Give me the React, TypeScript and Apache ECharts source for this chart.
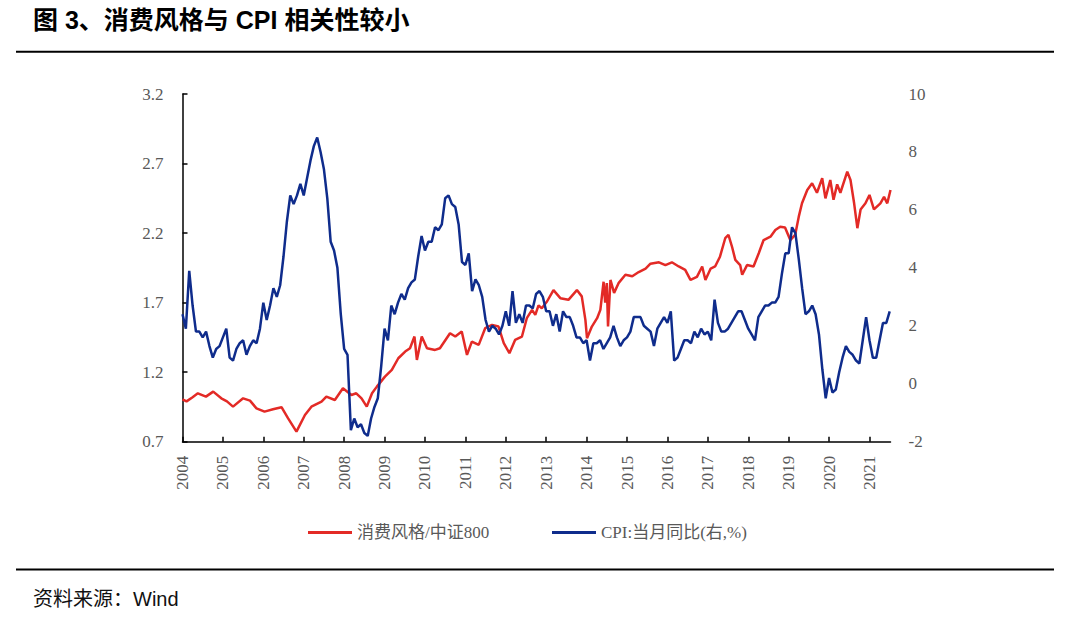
import React, { useEffect, useRef } from "react";
import * as echarts from "echarts";

// ---- Data ----
const yearTicks = [2004, 2005, 2006, 2007, 2008, 2009, 2010, 2011, 2012, 2013, 2014, 2015, 2016, 2017, 2018, 2019, 2020, 2021];

// 消费风格/中证800 (left axis): x as decimal year
const styleX = [
  2004.0, 2004.1, 2004.25, 2004.38, 2004.58, 2004.76, 2004.96, 2005.1, 2005.25, 2005.5, 2005.67, 2005.83,
  2006.03, 2006.24, 2006.45, 2006.61, 2006.82, 2007.03, 2007.19, 2007.44, 2007.56, 2007.77, 2007.97,
  2008.18, 2008.3, 2008.43, 2008.56, 2008.69, 2008.81, 2009.01, 2009.18, 2009.34, 2009.51, 2009.63,
  2009.74, 2009.8, 2009.92, 2010.05, 2010.25, 2010.37, 2010.62, 2010.75, 2010.91, 2011.04, 2011.16,
  2011.33, 2011.49, 2011.66, 2011.82, 2011.95, 2012.09, 2012.23, 2012.4, 2012.52, 2012.65, 2012.73,
  2012.81, 2012.89, 2013.02, 2013.18, 2013.35, 2013.55, 2013.76, 2013.88, 2013.97, 2014.01, 2014.13,
  2014.26, 2014.34, 2014.42, 2014.46, 2014.5, 2014.53, 2014.59, 2014.68, 2014.79, 2014.96, 2015.13,
  2015.29, 2015.46, 2015.58, 2015.79, 2015.95, 2016.11, 2016.28, 2016.44, 2016.57, 2016.73, 2016.86,
  2016.94, 2017.07, 2017.18, 2017.3, 2017.43, 2017.51, 2017.6, 2017.68, 2017.8, 2017.85, 2017.97,
  2018.13, 2018.26, 2018.38, 2018.55, 2018.67, 2018.79, 2018.91, 2019.04, 2019.16, 2019.25, 2019.33,
  2019.46, 2019.58, 2019.7, 2019.83, 2019.91, 2020.03, 2020.11, 2020.2, 2020.28, 2020.45, 2020.53,
  2020.62, 2020.7, 2020.78, 2020.9, 2021.0, 2021.11, 2021.27, 2021.36, 2021.44, 2021.52,
];
const styleY = [
  1.005, 0.99, 1.02, 1.048, 1.024, 1.06, 1.012, 0.99, 0.952, 1.012, 0.995, 0.94,
  0.916, 0.933, 0.948, 0.869, 0.772, 0.892, 0.952, 0.988, 1.024, 1.0, 1.084,
  1.036, 1.048, 1.012, 0.952, 1.048, 1.096, 1.168, 1.216, 1.3, 1.348, 1.372,
  1.456, 1.288, 1.456, 1.372, 1.36, 1.372, 1.48, 1.456, 1.492, 1.324, 1.42,
  1.396, 1.516, 1.54, 1.528, 1.408, 1.336, 1.432, 1.456, 1.588, 1.648, 1.612,
  1.68, 1.66, 1.708, 1.79, 1.732, 1.72, 1.79, 1.745, 1.576, 1.444, 1.528,
  1.588, 1.648, 1.85, 1.7, 1.84, 1.528, 1.863, 1.77, 1.84, 1.9, 1.89,
  1.92, 1.945, 1.98, 1.99, 1.97, 1.99, 1.96, 1.935, 1.863, 1.885, 1.96,
  1.863, 1.945, 1.96, 2.03, 2.163, 2.187, 2.1, 2.007, 1.97, 1.9, 1.97,
  1.96, 2.055, 2.15, 2.174, 2.222, 2.246, 2.24, 2.15, 2.187, 2.318, 2.414,
  2.51, 2.558, 2.49, 2.594, 2.45, 2.582, 2.44, 2.55, 2.49, 2.642, 2.582,
  2.414, 2.235, 2.37, 2.414, 2.474, 2.37, 2.414, 2.46, 2.414, 2.51,
];

// CPI:当月同比 (right axis), monthly, first point at 2004.0 on the chart's axis
const cpiStart = 2004;
const cpiValues = [
  2.4,
  1.9, 3.9, 2.7, 1.8, 1.8, 1.6, 1.8, 1.3, 0.9, 1.2, 1.3, 1.6,
  1.9, 0.9, 0.8, 1.2, 1.4, 1.5, 1.0, 1.3, 1.5, 1.4, 1.9, 2.8,
  2.2, 2.7, 3.3, 3.0, 3.4, 4.4, 5.6, 6.5, 6.2, 6.5, 6.9, 6.5,
  7.1, 7.7, 8.2, 8.5, 8.0, 7.4, 6.4, 4.9, 4.6, 4.0, 2.4, 1.2,
  1.0, -1.6, -1.2, -1.5, -1.4, -1.7, -1.8, -1.2, -0.8, -0.5, 0.6, 1.9,
  1.5, 2.7, 2.4, 2.8, 3.1, 2.9, 3.3, 3.5, 3.6, 4.4, 5.1, 4.6,
  4.9, 4.9, 5.4, 5.3, 5.5, 6.4, 6.5, 6.2, 6.1, 5.5, 4.2, 4.1,
  4.5, 3.2, 3.6, 3.4, 3.0, 2.2, 1.8, 2.0, 1.9, 1.7, 2.0, 2.5,
  2.0, 3.2, 2.1, 2.4, 2.1, 2.7, 2.7, 2.6, 3.1, 3.2, 3.0, 2.5,
  2.5, 2.0, 2.4, 1.8, 2.5, 2.3, 2.3, 2.0, 1.6, 1.6, 1.4, 1.5,
  0.8, 1.4, 1.4, 1.5, 1.2, 1.4, 1.6, 2.0, 1.6, 1.3, 1.5, 1.6,
  1.8, 2.3, 2.3, 2.3, 2.0, 1.9, 1.8, 1.3, 1.9, 2.1, 2.3, 2.1,
  2.5, 0.8, 0.9, 1.2, 1.5, 1.5, 1.4, 1.8, 1.6, 1.9, 1.7, 1.8,
  1.5, 2.9, 2.1, 1.8, 1.8, 1.9, 2.1, 2.3, 2.5, 2.5, 2.2, 1.9,
  1.7, 1.5, 2.3, 2.5, 2.7, 2.7, 2.8, 2.8, 3.0, 3.8, 4.5, 4.5,
  5.4, 5.2, 4.3, 3.3, 2.4, 2.5, 2.7, 2.4, 1.7, 0.5, -0.5, 0.2,
  -0.3, -0.2, 0.4, 0.9, 1.3, 1.1, 1.0, 0.8, 0.7, 1.5, 2.3, 1.5,
  0.9, 0.9, 1.5, 2.1, 2.1, 2.5,
];

const seriesNames = ["消费风格/中证800", "CPI:当月同比(右,%)"];
const titleText = "图 3、消费风格与 CPI 相关性较小";
const sourceText = "资料来源：Wind";

const RED = "#E32A26";
const BLUE = "#0F2C8C";
const GREY = "#595959";
const SERIF = "'Liberation Serif', 'Times New Roman', 'Noto Sans CJK SC', serif";
const SANS = "'Liberation Sans', Arial, 'Noto Sans CJK SC', sans-serif";

export default function App() {
  const ref = useRef<HTMLDivElement>(null);

  useEffect(() => {
    if (!ref.current) return;
    const chart = echarts.init(ref.current, undefined, { renderer: "svg" });

    const styleData = styleX.map((x, i) => [x, styleY[i]]);
    const cpiData = cpiValues.map((v, i) => [cpiStart + i / 12, v]);

    chart.setOption({
      animation: false,
      backgroundColor: "#ffffff",
      grid: { left: 182.5, right: 189.5, top: 94, bottom: 192.3, containLabel: false },
      xAxis: {
        type: "value",
        min: 2004,
        max: 2021.52,
        axisLine: { show: true, onZero: false, lineStyle: { color: "#000", width: 1.5 } },
        axisTick: { show: true, inside: true, length: 5, customValues: yearTicks, lineStyle: { color: "#000", width: 1.5 } },
        axisLabel: {
          customValues: yearTicks,
          rotate: 90,
          margin: 14,
          color: GREY,
          fontSize: 17,
          fontFamily: SERIF,
          formatter: (v: number) => String(Math.round(v)),
        },
        splitLine: { show: false },
      },
      yAxis: [
        {
          type: "value",
          min: 0.7,
          max: 3.2,
          interval: 0.5,
          axisLine: { show: true, onZero: false, lineStyle: { color: "#000", width: 1.5 } },
          axisTick: { show: true, inside: true, length: 5, lineStyle: { color: "#000", width: 1.5 } },
          axisLabel: {
            margin: 19,
            color: GREY,
            fontSize: 17,
            fontFamily: SERIF,
            formatter: (v: number) => v.toFixed(1),
          },
          splitLine: { show: false },
        },
        {
          type: "value",
          min: -2,
          max: 10,
          interval: 2,
          position: "right",
          axisLine: { show: false },
          axisTick: { show: false },
          axisLabel: {
            margin: 18,
            color: GREY,
            fontSize: 17,
            fontFamily: SERIF,
            align: "left",
          },
          splitLine: { show: false },
        },
      ],
      legend: [
        {
          data: [seriesNames[0]],
          left: 303,
          top: 519,
          icon: "rect",
          itemWidth: 44,
          itemHeight: 3,
          textStyle: { color: GREY, fontSize: 17, fontFamily: SERIF },
        },
        {
          data: [seriesNames[1]],
          left: 547,
          top: 519,
          icon: "rect",
          itemWidth: 44,
          itemHeight: 3,
          textStyle: { color: GREY, fontSize: 17, fontFamily: SERIF },
        },
      ],
      series: [
        {
          name: seriesNames[0],
          type: "line",
          yAxisIndex: 0,
          data: styleData,
          showSymbol: false,
          symbol: "none",
          lineStyle: { color: RED, width: 2.5 },
          itemStyle: { color: RED },
        },
        {
          name: seriesNames[1],
          type: "line",
          yAxisIndex: 1,
          data: cpiData,
          showSymbol: false,
          symbol: "none",
          lineStyle: { color: BLUE, width: 2.5 },
          itemStyle: { color: BLUE },
        },
      ],
      graphic: [
        {
          type: "text",
          left: 33,
          top: 7,
          style: { text: titleText, fill: "#000", font: `bold 25px ${SANS}` },
        },
        {
          type: "line",
          shape: { x1: 16, y1: 51.7, x2: 1054, y2: 51.7 },
          style: { stroke: "#000", lineWidth: 2 },
        },
        {
          type: "line",
          shape: { x1: 16, y1: 569.5, x2: 1054, y2: 569.5 },
          style: { stroke: "#000", lineWidth: 2 },
        },
        {
          type: "text",
          left: 33,
          top: 589,
          style: { text: sourceText, fill: "#111", font: `20px ${SANS}` },
        },
      ],
    });

    return () => chart.dispose();
  }, []);

  return (
    <div
      ref={ref}
      style={{ position: "absolute", left: 0, top: 0, width: 1080, height: 634 }}
    />
  );
}
